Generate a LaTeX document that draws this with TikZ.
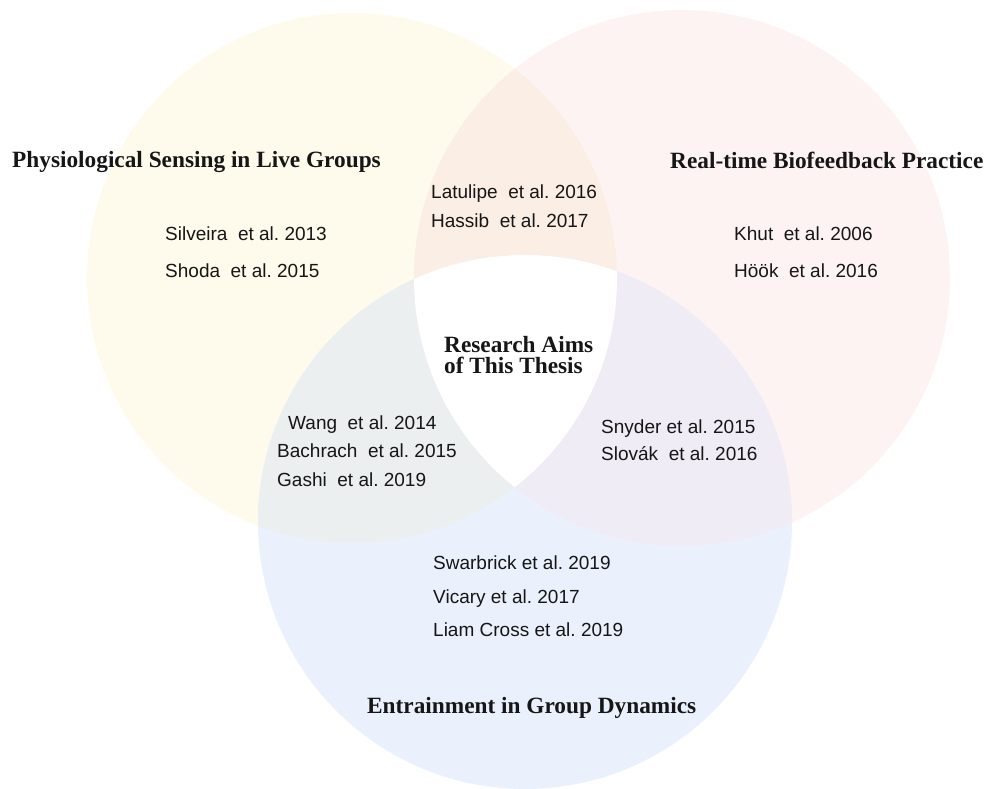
\documentclass[tikz,border=0pt]{standalone}
\usepackage{fontspec}
\setmainfont{Liberation Serif}
\setsansfont{Liberation Sans}
\usepackage{tikz}
\usetikzlibrary{positioning}
\definecolor{VennYellow}{RGB}{254,250,236}
\definecolor{VennPink}{RGB}{253,243,242}
\definecolor{VennBlue}{RGB}{235,241,252}
\definecolor{VennOrange}{RGB}{251,238,229}
\definecolor{VennGray}{RGB}{235,239,240}
\definecolor{VennLilac}{RGB}{240,236,246}
\definecolor{VennText}{RGB}{22,22,22}
\tikzset{
  tema/.style={font=\fontsize{23.3}{21}\selectfont\bfseries, text=VennText,
               inner sep=0pt, anchor=base west, align=left},
  citacao/.style={font=\fontsize{19}{22}\selectfont\sffamily\frenchspacing,
               text=VennText, inner sep=0pt, anchor=base west},
}

\begin{document}
\begin{tikzpicture}[x=1pt, y=-1pt]
  \useasboundingbox (0,0) rectangle (987,789);

  % Conjuntos (centro e raio em pixels da figura)
  \newcommand{\setyellow}{(352,278) circle [radius=265pt]}
  \newcommand{\setpink}{(682,278) circle [radius=268pt]}
  \newcommand{\setblue}{(525,522) circle [radius=267pt]}

  \fill[VennYellow] \setyellow;
  \fill[VennPink] \setpink;
  \fill[VennBlue] \setblue;

  % Intersecoes duas a duas, e o centro branco
  \begin{scope}\clip \setyellow; \fill[VennOrange] \setpink; \end{scope}
  \begin{scope}\clip \setyellow; \fill[VennGray] \setblue; \end{scope}
  \begin{scope}\clip \setpink; \fill[VennLilac] \setblue; \end{scope}
  \begin{scope}\clip \setyellow; \clip \setpink; \fill[white] \setblue; \end{scope}

  % Titulos dos conjuntos
  \node[tema] (sensing) at (12,167) {Physiological Sensing in Live Groups};
  \node[tema] (biofeed) at (670,168) {Real-time Biofeedback Practice};
  \node[tema] (entrain) at (367,713) {Entrainment in Group Dynamics};
  \node[tema] (aims) at (444,373) {Research Aims\\of This Thesis};

  % Referencias por regiao
  \foreach \i/\y/\txt in {1/240/{Silveira~~et al. 2013}, 2/277/{Shoda~~et al. 2015}}{
    \node[citacao] (ys\i) at (165,\y) {\txt};
  }
  \foreach \i/\y/\txt in {1/198/{Latulipe~~et al. 2016}, 2/227/{Hassib~~et al. 2017}}{
    \node[citacao] (yp\i) at (431,\y) {\txt};
  }
  \foreach \i/\y/\txt in {1/240/{Khut~~et al. 2006}, 2/277/{Höök~~et al. 2016}}{
    \node[citacao] (ps\i) at (734,\y) {\txt};
  }
  \node[citacao] (yb1) at (288,429) {Wang~~et al. 2014};
  \foreach \i/\y/\txt in {2/457/{Bachrach~~et al. 2015}, 3/486/{Gashi~~et al. 2019}}{
    \node[citacao] (yb\i) at (277,\y) {\txt};
  }
  \foreach \i/\y/\txt in {1/433/{Snyder et al. 2015}, 2/460/{Slovák~~et al. 2016}}{
    \node[citacao] (pb\i) at (601,\y) {\txt};
  }
  \foreach \i/\y/\txt in {1/569/{Swarbrick et al. 2019}, 2/603/{Vicary et al. 2017}, 3/636/{Liam Cross et al. 2019}}{
    \node[citacao] (bs\i) at (433,\y) {\txt};
  }
\end{tikzpicture}
\end{document}
